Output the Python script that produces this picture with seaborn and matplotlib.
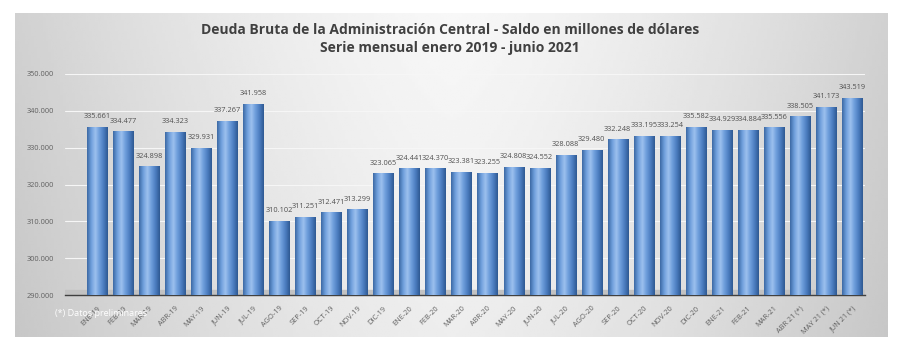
import numpy as np
import pandas as pd
import matplotlib
matplotlib.use("Agg")
import matplotlib.pyplot as plt
from matplotlib.colors import LinearSegmentedColormap
import seaborn as sns

# Data (millones de dólares)
months = ["ENE-19", "FEB-19", "MAR-19", "ABR-19", "MAY-19", "JUN-19", "JUL-19",
          "AGO-19", "SEP-19", "OCT-19", "NOV-19", "DIC-19",
          "ENE-20", "FEB-20", "MAR-20", "ABR-20", "MAY-20", "JUN-20", "JUL-20",
          "AGO-20", "SEP-20", "OCT-20", "NOV-20", "DIC-20",
          "ENE-21", "FEB-21", "MAR-21", "ABR 21 (*)", "MAY 21 (*)", "JUN 21 (*)"]
deuda = [335661, 334477, 324898, 334323, 329931, 337267, 341958,
         310102, 311251, 312471, 313299, 323065,
         324441, 324370, 323381, 323255, 324808, 324552, 328088,
         329480, 332248, 333195, 333254, 335582,
         334929, 334884, 335556, 338505, 341173, 343519]
y_ticks = [290000, 300000, 310000, 320000, 330000, 340000, 350000]
y_min, y_max = 290000, 350000

df = pd.DataFrame({"mes": months, "deuda": deuda})


def miles(v):
    return f"{v:,.0f}".replace(",", ".")


sns.set_theme(style="white")
plt.rcParams["font.family"] = ["Open Sans", "DejaVu Sans"]

fig = plt.figure(figsize=(9, 3.52), dpi=100)
fig.patch.set_facecolor("white")

# gray gradient panel behind the chart
bg = fig.add_axes([15 / 900, 15 / 352, 872 / 900, 324 / 352], zorder=0)
gx = np.linspace(-1, 1, 300)
gy = np.linspace(-1, 1, 120)
GX, GY = np.meshgrid(gx, gy)
shade = 0.97 - 0.15 * np.abs(GX) ** 1.4 - 0.04 * (GY + 1) / 2
bg.imshow(shade, cmap="gray", vmin=0, vmax=1, aspect="auto", extent=[0, 1, 0, 1])
bg.set_axis_off()

ax = fig.add_axes([65 / 900, 57 / 352, 800 / 900, 221 / 352], zorder=1)
ax.set_facecolor("none")

sns.barplot(data=df, x="mes", y="deuda", color="#5b8fd0", width=0.77,
            edgecolor="none", ax=ax)

# cylinder-like shading on each bar
bar_cmap = LinearSegmentedColormap.from_list(
    "cyl", ["#3d6aa5", "#6f9fdc", "#9cc0ee", "#6d9ddb", "#4b7cbf", "#2f5a93"])
grad = np.linspace(0, 1, 64).reshape(1, -1)
for patch in list(ax.patches):
    x0 = patch.get_x()
    w, top = patch.get_width(), patch.get_y() + patch.get_height()
    im = ax.imshow(grad, cmap=bar_cmap, aspect="auto", zorder=3,
                   extent=[x0, x0 + w, y_min, top])
    im.set_clip_path(patch)
    patch.set_facecolor("none")
    # value label
    ax.text(x0 + w / 2, top + 1800, miles(top), ha="center", va="bottom",
            fontsize=5.3, color="#505050", zorder=5)

ax.set_xlim(-1.23, 29.5)
ax.set_ylim(y_min, y_max)
ax.set_yticks(y_ticks)
ax.set_yticklabels([miles(v) for v in y_ticks], fontsize=5.3, color="#606060")
ax.yaxis.grid(True, color="#f6f6f6", linewidth=0.8, zorder=0)
ax.set_axisbelow(True)

ax.set_xticks(range(len(months)))
ax.set_xticklabels(months, rotation=45, ha="right", rotation_mode="anchor",
                   fontsize=5.3, color="#606060")
ax.tick_params(axis="x", length=0, pad=7)
ax.tick_params(axis="y", length=0, pad=8)
ax.set_xlabel("")
ax.set_ylabel("")
for side in ["top", "right", "left"]:
    ax.spines[side].set_visible(False)
ax.spines["bottom"].set_color("#404040")
ax.spines["bottom"].set_linewidth(1.0)

# floor shadow of the 3D look
ax.axhspan(y_min, y_min + 1300, color="#c2c2c2", zorder=1)

fig.text(450 / 900, 1 - 30 / 352,
         "Deuda Bruta de la Administración Central - Saldo en millones de dólares",
         ha="center", va="center", fontsize=10, fontweight="bold", color="#404040")
fig.text(450 / 900, 1 - 48 / 352, "Serie mensual enero 2019 - junio 2021",
         ha="center", va="center", fontsize=10, fontweight="bold", color="#404040")
fig.text(55 / 900, 1 - 313 / 352, "(*) Datos preliminares", ha="left", va="center",
         fontsize=6.5, color="white", zorder=10)

fig.savefig("out.png", dpi=100)
